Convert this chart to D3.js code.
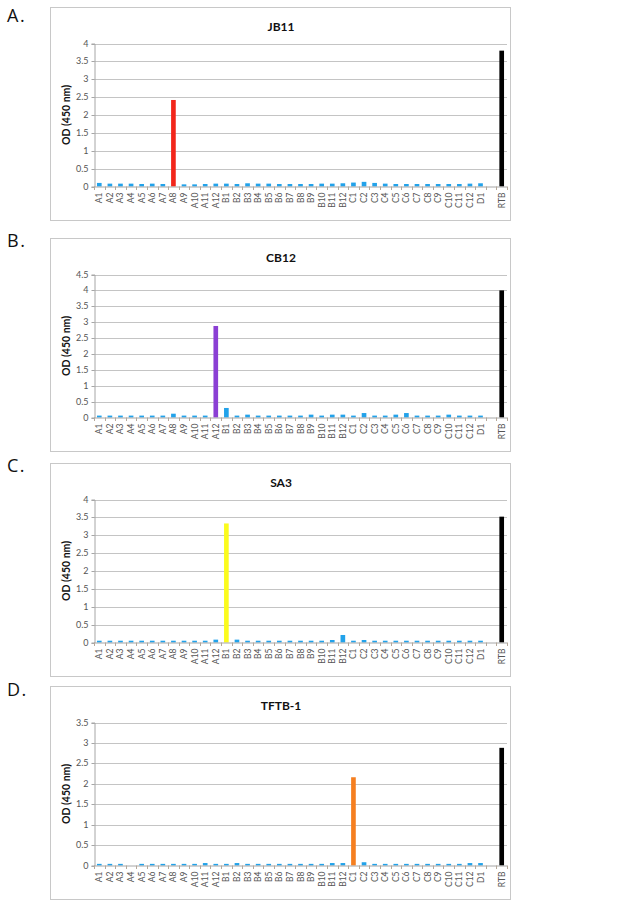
<!DOCTYPE html>
<html><head><meta charset="utf-8">
<script src="https://cdn.jsdelivr.net/npm/d3@7"></script>
<style>body{margin:0;background:#fff;} svg{display:block;}</style>
</head><body>
<svg id="c" width="624" height="909"></svg>
<script>
const categories = ["A1","A2","A3","A4","A5","A6","A7","A8","A9","A10","A11","A12",
  "B1","B2","B3","B4","B5","B6","B7","B8","B9","B10","B11","B12",
  "C1","C2","C3","C4","C5","C6","C7","C8","C9","C10","C11","C12","D1","","RTB"];
const panelLetters = ["A.","B.","C.","D."];
const titles = ["JB11","CB12","SA3","TFTB-1"];
const yMaxes = [4, 4.5, 4, 3.5];
const highlightCategory = ["A8","A12","B1","C1"];
const highlightColors = ["#f2261b","#8b3fd4","#fbfb1e","#f57f20"];
const jb11 = [0.10,0.08,0.08,0.08,0.07,0.08,0.07,2.42,0.06,0.06,0.07,0.08,
  0.08,0.07,0.09,0.08,0.08,0.07,0.07,0.07,0.07,0.08,0.08,0.09,
  0.11,0.13,0.10,0.08,0.07,0.07,0.07,0.07,0.07,0.07,0.07,0.08,0.09,null,3.80];
const cb12 = [0.06,0.06,0.06,0.06,0.06,0.06,0.06,0.12,0.06,0.06,0.06,2.88,
  0.30,0.06,0.09,0.06,0.06,0.06,0.06,0.06,0.09,0.06,0.09,0.09,
  0.06,0.14,0.06,0.06,0.09,0.14,0.06,0.06,0.06,0.09,0.06,0.06,0.06,null,4.00];
const sa3 = [0.05,0.05,0.05,0.05,0.05,0.05,0.05,0.05,0.05,0.05,0.05,0.08,
  3.33,0.08,0.05,0.05,0.05,0.05,0.05,0.05,0.05,0.05,0.07,0.21,
  0.05,0.07,0.05,0.05,0.05,0.05,0.05,0.05,0.05,0.05,0.05,0.05,0.05,null,3.52];
const tftb1 = [0.04,0.04,0.04,0.00,0.04,0.04,0.04,0.04,0.04,0.04,0.06,0.04,
  0.04,0.06,0.04,0.04,0.04,0.04,0.04,0.04,0.04,0.04,0.06,0.06,
  2.16,0.08,0.04,0.04,0.04,0.04,0.04,0.04,0.04,0.04,0.04,0.06,0.06,null,2.88];
const seriesList = [jb11, cb12, sa3, tftb1];
const baseColor = "#22a2ea";
const controlColor = "#000000";

const boxTops = [7, 238, 463, 686];
const letterBaselines = [22, 247, 472, 696];
const boxH = 213, boxX = 50, boxW = 460;
const plotL = 94, plotR = 507;
const font = "Lato, 'Open Sans', sans-serif";

const svg = d3.select("#c");

seriesList.forEach((vals, p) => {
  const top = boxTops[p];
  svg.append("text").attr("x", 7).attr("y", letterBaselines[p])
    .attr("font-family", "'Open Sans', Lato, sans-serif").attr("font-size", 18)
    .attr("letter-spacing", 1.5)
    .attr("fill", "#111").text(panelLetters[p]);

  const g = svg.append("g");
  g.append("rect").attr("x", boxX + 0.5).attr("y", top + 0.5).attr("width", boxW).attr("height", boxH)
    .attr("fill", "#fff").attr("stroke", "#c8c8c8").attr("stroke-width", 1);

  g.append("text").attr("x", 281).attr("y", top + 23.5).attr("text-anchor", "middle")
    .attr("font-family", font).attr("font-weight", "bold").attr("font-size", 12)
    .attr("fill", "#111").text(titles[p]);

  const plotT = top + 36.5, plotB = top + 179.5;
  const y = d3.scaleLinear().domain([0, yMaxes[p]]).range([plotB, plotT]);
  const x = d3.scaleBand().domain(categories.map((c, i) => i)).range([plotL, plotR])
    .paddingInner(0.56).paddingOuter(0.28);
  const step = x.step();

  const ticks = d3.range(0, yMaxes[p] + 0.001, 0.5);
  g.append("g").selectAll("line").data(ticks.filter(t => t > 0)).join("line")
    .attr("x1", plotL).attr("x2", plotR)
    .attr("y1", d => Math.round(y(d)) + 0.5).attr("y2", d => Math.round(y(d)) + 0.5)
    .attr("stroke", "#c4c4c4").attr("stroke-width", 1);

  const ya = g.append("g").attr("transform", `translate(${plotL + 0.5},0)`)
    .call(d3.axisLeft(y).tickValues(ticks).tickSize(3).tickPadding(3)
      .tickFormat(d => d3.format("~g")(d)));
  ya.select(".domain").attr("stroke", "#a6a6a6");
  ya.selectAll(".tick line").attr("stroke", "#a6a6a6");
  ya.selectAll("text").attr("font-family", font).attr("font-size", 9).attr("fill", "#555");
  ya.selectAll(".tick").attr("transform", d => `translate(0,${Math.round(y(d)) + 0.5})`);

  g.append("g").selectAll("rect").data(vals.map((v, i) => ({v, i})).filter(d => d.v !== null))
    .join("rect")
    .attr("x", d => x(d.i)).attr("width", x.bandwidth())
    .attr("y", d => y(d.v)).attr("height", d => Math.max(0, plotB - y(d.v)))
    .attr("fill", d => categories[d.i] === highlightCategory[p] ? highlightColors[p]
      : categories[d.i] === "RTB" ? controlColor : baseColor);

  g.append("line").attr("x1", plotL).attr("x2", plotR)
    .attr("y1", plotB + 0.5).attr("y2", plotB + 0.5).attr("stroke", "#a6a6a6");
  g.append("g").selectAll("line").data(d3.range(categories.length + 1)).join("line")
    .attr("x1", i => Math.round(plotL + i * step) + 0.5).attr("x2", i => Math.round(plotL + i * step) + 0.5)
    .attr("y1", plotB).attr("y2", plotB + 3.5).attr("stroke", "#b5a89a");
  g.append("g").selectAll("text").data(categories.map((c, i) => ({c, i})).filter(d => d.c !== ""))
    .join("text")
    .attr("transform", d => `translate(${x(d.i) + x.bandwidth() / 2 + 3},${plotB + 6}) rotate(-90)`)
    .attr("text-anchor", "end")
    .attr("font-family", font).attr("font-size", 8.5).attr("fill", "#555")
    .text(d => d.c);

  g.append("text").attr("transform", `translate(70,${(plotT + plotB) / 2}) rotate(-90)`)
    .attr("text-anchor", "middle").attr("font-family", font).attr("font-weight", "bold")
    .attr("font-size", 10.5).attr("fill", "#111").text("OD (450 nm)");
});
</script>
</body></html>
